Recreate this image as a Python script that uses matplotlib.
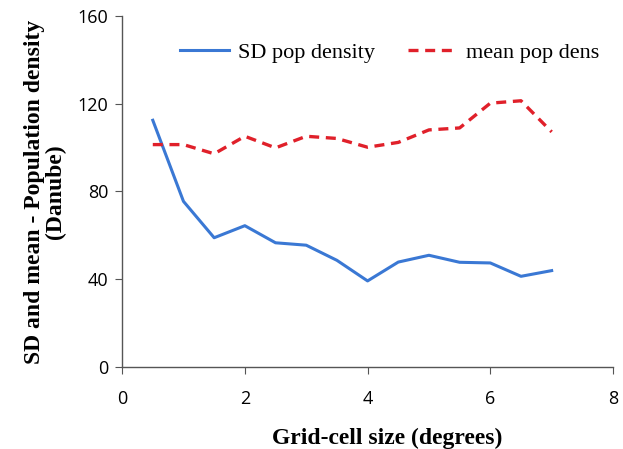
import matplotlib
matplotlib.use('Agg')
import matplotlib.pyplot as plt

# Values
grid_size = [0.5, 1.0, 1.5, 2.0, 2.5, 3.0, 3.5, 4.0, 4.5, 5.0, 5.5, 6.0, 6.5, 7.0]
sd_pop = [112.5, 75.5, 58.9, 64.4, 56.6, 55.5, 48.6, 39.2, 47.8, 50.9, 47.7, 47.4, 41.3, 43.9]
mean_pop = [101.4, 101.4, 97.2, 105.2, 99.9, 105.2, 104.2, 100.2, 102.4, 108.1, 109.0, 120.3, 121.4, 107.2]

x_ticks = [0, 2, 4, 6, 8]
y_ticks = [0, 40, 80, 120, 160]

fig = plt.figure(figsize=(6.23, 4.49), dpi=100)
ax = fig.add_axes([0.196, 0.183, 0.788, 0.781])

ax.plot(grid_size, sd_pop, color='#3a78d4', lw=2.2, label='SD pop density')
ax.plot(grid_size, mean_pop, color='#e0202a', lw=2.4, ls=(0, (3, 2)), label='mean pop dens')

ax.set_xlim(0, 8)
ax.set_ylim(0, 160)
ax.set_xticks(x_ticks)
ax.set_yticks(y_ticks)
ax.set_xticklabels([str(t) for t in x_ticks], family='Open Sans', fontsize=13)
ax.set_yticklabels([str(t) for t in y_ticks], family='Open Sans', fontsize=13)
ax.tick_params(direction='out', length=5, color='#555555')
ax.tick_params(axis='x', pad=12)
ax.tick_params(axis='y', pad=5)

for side in ['top', 'right']:
    ax.spines[side].set_visible(False)
for side in ['left', 'bottom']:
    ax.spines[side].set_color('#555555')
    ax.spines[side].set_linewidth(1.0)

ax.set_xlabel('Grid-cell size (degrees)', family='Liberation Serif', fontweight='bold', fontsize=17)
ax.xaxis.set_label_coords(0.54, -0.175)
ax.set_ylabel('SD and mean - Population density\n(Danube)', family='Liberation Serif', fontweight='bold',
              fontsize=17, labelpad=8, linespacing=1.0)

ax.legend(loc='center left', ncol=2, frameon=False, prop={'family': 'Liberation Serif', 'size': 16},
          handlelength=2.2, handletextpad=0.4, columnspacing=1.5, borderpad=0, borderaxespad=0,
          bbox_to_anchor=(0.118, 0.897))

fig.savefig('out.png', dpi=100)
